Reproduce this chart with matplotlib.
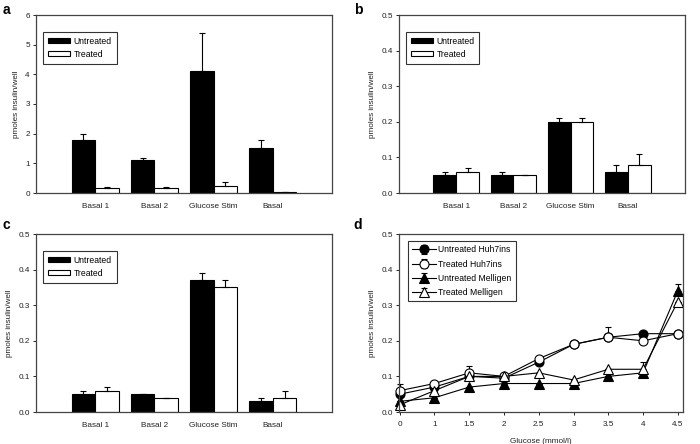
import matplotlib
matplotlib.use("Agg")
import matplotlib.pyplot as plt
import numpy as np

plt.rcParams['font.family'] = ['Liberation Sans', 'DejaVu Sans']

categories = ["Basal 1", "Basal 2", "Glucose Stim", "Basal"]

a_untreated = [1.8, 1.1, 4.1, 1.5]
a_untreated_err = [0.18, 0.07, 1.3, 0.3]
a_treated = [0.17, 0.17, 0.23, 0.05]
a_treated_err = [0.02, 0.03, 0.13, 0.0]

b_untreated = [0.05, 0.05, 0.20, 0.06]
b_untreated_err = [0.01, 0.01, 0.01, 0.02]
b_treated = [0.06, 0.05, 0.20, 0.08]
b_treated_err = [0.01, 0.0, 0.01, 0.03]

c_untreated = [0.05, 0.05, 0.37, 0.03]
c_untreated_err = [0.01, 0.0, 0.02, 0.01]
c_treated = [0.06, 0.04, 0.35, 0.04]
c_treated_err = [0.01, 0.0, 0.02, 0.02]

glucose_labels = ["0", "1", "1.5", "2", "2.5", "3", "3.5", "4", "4.5"]
untreated_huh7 = [0.05, 0.07, 0.10, 0.095, 0.14, 0.19, 0.21, 0.22, 0.22]
untreated_huh7_err = [0.03, 0, 0, 0, 0, 0, 0, 0, 0]
treated_huh7 = [0.06, 0.08, 0.11, 0.10, 0.15, 0.19, 0.21, 0.20, 0.22]
treated_huh7_err = [0, 0, 0.02, 0, 0, 0, 0.03, 0, 0]
untreated_mell = [0.03, 0.04, 0.07, 0.08, 0.08, 0.08, 0.10, 0.11, 0.34]
untreated_mell_err = [0, 0, 0, 0, 0, 0, 0, 0, 0.02]
treated_mell = [0.02, 0.06, 0.10, 0.10, 0.11, 0.09, 0.12, 0.12, 0.31]
treated_mell_err = [0, 0, 0, 0, 0, 0, 0, 0.02, 0]

W, H = 700, 444
fig = plt.figure(figsize=(7, 4.44), dpi=100)

FS = 5.9
LFS = 6.2
SPINE = '#444444'

def rect(l, t, r, b):
    return [l / W, (H - b) / H, (r - l) / W, (b - t) / H]

def style(ax):
    for s in ax.spines.values():
        s.set_color(SPINE)
        s.set_linewidth(0.9)
    ax.tick_params(direction='out', length=2.5, width=0.7, colors='#222222',
                   labelsize=FS, pad=2)
    ax.set_ylabel("pmoles insulin/well", fontsize=FS, color='#222222', labelpad=4)

def bar_panel(rc, unt, unt_err, trt, trt_err, ymax, yticks, fmt):
    ax = fig.add_axes(rc)
    x = np.arange(len(categories))
    w = 0.4
    z = np.zeros(len(categories))
    ax.bar(x - w / 2, unt, w, color='black', edgecolor='black', linewidth=0.8,
           yerr=[z, unt_err], error_kw=dict(ecolor='black', capsize=2.5, elinewidth=0.8, capthick=0.8),
           label='Untreated')
    ax.bar(x + w / 2, trt, w, color='white', edgecolor='black', linewidth=0.8,
           yerr=[z, trt_err], error_kw=dict(ecolor='black', capsize=2.5, elinewidth=0.8, capthick=0.8),
           label='Treated')
    ax.set_xlim(-1.0, 4.0)
    ax.set_ylim(0, ymax)
    ax.set_yticks(yticks)
    ax.set_yticklabels([fmt.format(v) for v in yticks])
    ax.set_xticks(x)
    ax.set_xticklabels(categories)
    style(ax)
    ax.tick_params(axis='x', length=0, pad=7)
    leg = ax.legend(loc='upper left', bbox_to_anchor=(0.024, 0.905), fontsize=LFS,
                    frameon=True, fancybox=False, edgecolor='black', handlelength=2.6,
                    handleheight=0.55, borderpad=0.55, labelspacing=0.5, handletextpad=0.4,
                    borderaxespad=0)
    leg.get_frame().set_linewidth(0.8)
    return ax

bar_panel(rect(36, 15, 332, 193), a_untreated, a_untreated_err, a_treated, a_treated_err,
          6, [0, 1, 2, 3, 4, 5, 6], "{:g}")
bar_panel(rect(399, 15, 685, 193), b_untreated, b_untreated_err, b_treated, b_treated_err,
          0.5, [0, 0.1, 0.2, 0.3, 0.4, 0.5], "{:.1f}")
bar_panel(rect(36, 234, 332, 412), c_untreated, c_untreated_err, c_treated, c_treated_err,
          0.5, [0, 0.1, 0.2, 0.3, 0.4, 0.5], "{:.1f}")

ax = fig.add_axes(rect(399, 234, 683, 412))
xi = np.arange(len(glucose_labels))
series = [
    (untreated_huh7, untreated_huh7_err, 'o', 'black', "Untreated Huh7ins"),
    (treated_huh7, treated_huh7_err, 'o', 'white', "Treated Huh7ins"),
    (untreated_mell, untreated_mell_err, '^', 'black', "Untreated Melligen"),
    (treated_mell, treated_mell_err, '^', 'white', "Treated Melligen"),
]
zeros = np.zeros(len(xi))
for vals, err, m, fc, lab in series:
    ax.errorbar(xi, vals, yerr=[zeros, err], color='black', marker=m, markersize=6.5,
                markerfacecolor=fc, markeredgecolor='black', markeredgewidth=0.8,
                linewidth=0.8, capsize=2.5, elinewidth=0.8, capthick=0.8, label=lab,
                clip_on=False)
ax.set_xlim(-0.02, 8.15)
ax.set_ylim(0, 0.5)
ax.set_xticks(xi)
ax.set_xticklabels(glucose_labels)
ax.set_yticks([0, 0.1, 0.2, 0.3, 0.4, 0.5])
ax.set_yticklabels(["0.0", "0.1", "0.2", "0.3", "0.4", "0.5"])
style(ax)
ax.tick_params(axis='x', pad=4)
ax.set_xlabel("Glucose (mmol/l)", fontsize=FS, color='#222222', labelpad=7)
handles, labels = ax.get_legend_handles_labels()
leg = ax.legend(handles, labels, loc='upper left', bbox_to_anchor=(0.032, 0.96), fontsize=LFS,
                frameon=True, fancybox=False, edgecolor='black', handlelength=2.7,
                borderpad=0.5, labelspacing=0.6, handletextpad=0.3, borderaxespad=0)
leg.get_frame().set_linewidth(0.8)

for lab, (px, py) in zip("abcd", [(6, 10), (358, 10), (6, 225), (358, 225)]):
    fig.text(px / W, 1 - py / H, lab, fontsize=10, fontweight='bold', ha='center', va='center')

fig.savefig("out.png", dpi=100)
